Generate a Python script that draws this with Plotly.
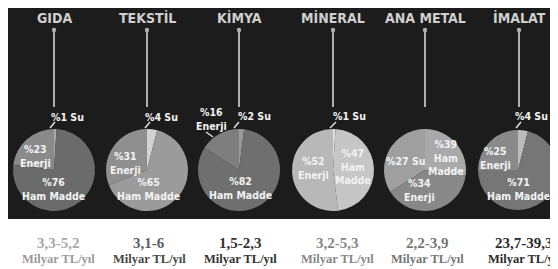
import plotly.graph_objects as go

# ---- data ----
sectors = ["GIDA", "TEKSTİL", "KİMYA", "MİNERAL", "ANA METAL", "İMALAT"]
slice_names = ["Su", "Enerji", "Ham Madde"]
su = [1, 4, 2, 1, 27, 4]
enerji = [23, 31, 16, 52, 34, 25]
ham_madde = [76, 65, 82, 47, 39, 71]
cost_ranges = ["3,3-5,2", "3,1-6", "1,5-2,3", "3,2-5,3", "2,2-3,9", "23,7-39,3"]
unit = "Milyar TL/yıl"

# ---- styling / layout (pixel positions given in page coordinates) ----
OX, OY = 8, 8            # page body margin in which the figure sits
W, H = 550, 261          # figure size
centers_x = [54, 147, 239, 333, 425, 519]
cy, R = 170, 41
slice_colors = [
    ["#a9a9a9", "#8a8a8a", "#6b6b6b"],
    ["#d2d2d2", "#8f8f8f", "#9b9b9b"],
    ["#9a9a9a", "#7e7e7e", "#6f6f6f"],
    ["#dedede", "#b8b8b8", "#c6c6c6"],
    ["#a9a9a9", "#9f9f9f", "#888888"],
    ["#bcbcbc", "#8a8a8a", "#767676"],
]
value_colors = ["#a8a8a8", "#5e5e5e", "#333333", "#878787", "#767676", "#2b2b2b"]
unit_colors = ["#9a9a9a", "#474747", "#333333", "#878787", "#767676", "#2b2b2b"]
bottom_x = [58, 149, 240, 337, 427, 524]

# label block centres (pixel) per pie and whether "Ham Madde" wraps
label_pos = [
    {"su": (67, 117), "en": (35, 156), "hm": (53, 189), "wrap": False},
    {"su": (161, 117), "en": (125, 162.5), "hm": (148.5, 189), "wrap": False},
    {"su": (254, 116), "en": (211, 119), "hm": (240.5, 187.5), "wrap": False},
    {"su": (349, 116), "en": (313, 167.5), "hm": (353, 166), "wrap": True},
    {"su": (405, 161), "en": (419, 189.5), "hm": (446, 157.5), "wrap": True},
    {"su": (531, 116), "en": (495.5, 157.5), "hm": (518.5, 189), "wrap": False},
]
leaders = [
    (50, 128, 55, 122), (145, 128, 150, 122), (234, 128, 239, 122),
    (206, 132, 213, 137), (330, 128, 336, 122), (516, 128, 521, 122),
]

def px(x):
    return max(0.0, min(1.0, (x - OX) / W))

def py(y):
    return max(0.0, min(1.0, 1 - (y - OY) / H))

cond = "DejaVu Sans Condensed, Liberation Sans Narrow, Roboto, sans-serif"
serif = "Liberation Serif, DejaVu Serif, serif"

fig = go.Figure()
shapes = [
    dict(type="rect", xref="paper", yref="paper", x0=0.0, x1=1.0, y0=py(219), y1=1.0,
         fillcolor="#1c1c1c", line=dict(width=0), layer="below"),
]
annotations = []

for i, name in enumerate(sectors):
    cx = centers_x[i]
    fig.add_trace(go.Pie(
        labels=slice_names,
        values=[su[i], enerji[i], ham_madde[i]],
        sort=False, direction="counterclockwise", rotation=0,
        marker=dict(colors=slice_colors[i], line=dict(width=0)),
        textinfo="none", hoverinfo="label+percent", showlegend=False,
        domain=dict(x=[px(cx - R), px(cx + R)], y=[py(cy + R), py(cy - R)]),
    ))
    annotations.append(dict(x=px(cx), y=py(18), xref="paper", yref="paper", text=f"<b>{name}</b>",
                            showarrow=False, font=dict(family=cond, size=14, color="#cfcfcf"),
                            xanchor="center", yanchor="middle"))
    shapes.append(dict(type="line", xref="paper", yref="paper", x0=px(cx), x1=px(cx),
                       y0=py(30), y1=py(107), line=dict(color="#b0b0b0", width=2)))
    shapes.append(dict(type="circle", xref="paper", yref="paper", x0=px(cx - 2.2), x1=px(cx + 2.2),
                       y0=py(32.2), y1=py(27.8), fillcolor="#b0b0b0", line=dict(width=0)))
    lp = label_pos[i]
    texts = {
        "su": f"%{su[i]} Su",
        "en": f"%{enerji[i]}<br>Enerji",
        "hm": f"%{ham_madde[i]}<br>" + ("Ham<br>Madde" if lp["wrap"] else "Ham Madde"),
    }
    for key in ("su", "en", "hm"):
        x, y = lp[key]
        annotations.append(dict(x=px(x), y=py(y), xref="paper", yref="paper",
                                text="<b>" + texts[key].replace("<br>", "</b><br><b>") + "</b>",
                                showarrow=False, font=dict(family=cond, size=10.5, color="#f2f2f2"),
                                xanchor="center", yanchor="middle", align="center"))
    annotations.append(dict(x=px(bottom_x[i]), y=py(243), xref="paper", yref="paper",
                            text=f"<b>{cost_ranges[i]}</b>", showarrow=False,
                            font=dict(family=serif, size=15, color=value_colors[i]),
                            xanchor="center", yanchor="middle"))
    annotations.append(dict(x=px(bottom_x[i]), y=py(259), xref="paper", yref="paper",
                            text=f"<b>{unit}</b>", showarrow=False,
                            font=dict(family=serif, size=12.5, color=unit_colors[i]),
                            xanchor="center", yanchor="middle"))

for (x0, y0, x1, y1) in leaders:
    shapes.append(dict(type="line", xref="paper", yref="paper", x0=px(x0), y0=py(y0),
                       x1=px(x1), y1=py(y1), line=dict(color="#e0e0e0", width=1.5)))

fig.update_layout(
    width=W, height=H, autosize=False,
    margin=dict(l=0, r=0, t=0, b=0),
    paper_bgcolor="#ffffff", plot_bgcolor="#ffffff",
    shapes=shapes, annotations=annotations,
)
fig.write_html("out.html")
